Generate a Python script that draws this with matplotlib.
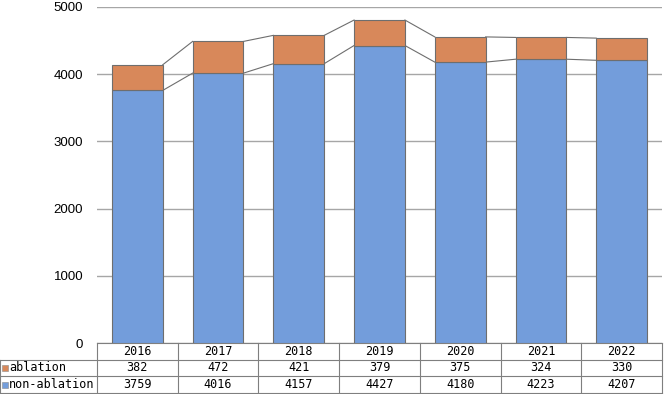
import matplotlib.pyplot as plt
import numpy as np

years = ['2016', '2017', '2018', '2019', '2020', '2021', '2022']
ablation = [382, 472, 421, 379, 375, 324, 330]
non_ablation = [3759, 4016, 4157, 4427, 4180, 4223, 4207]
series_names = ['ablation', 'non-ablation']

blue = '#739ddb'
orange = '#d8885a'
edge = '#6e6e6e'

W, H = 664, 394
fig = plt.figure(figsize=(W / 100, H / 100), dpi=100)
left, right, top, bottom = 97, 662, 7, 343
ax = fig.add_axes([left / W, 1 - bottom / H, (right - left) / W, (bottom - top) / H])

x = np.arange(len(years))
bw = 0.63
ax.bar(x, non_ablation, bw, color=blue, edgecolor=edge, linewidth=0.8, zorder=3)
ax.bar(x, ablation, bw, bottom=non_ablation, color=orange, edgecolor=edge, linewidth=0.8, zorder=3)

# series lines between bars
totals = np.array(non_ablation) + np.array(ablation)
for lvl in (np.array(non_ablation), totals):
    for i in range(len(x) - 1):
        ax.plot([x[i] + bw / 2, x[i + 1] - bw / 2], [lvl[i], lvl[i + 1]],
                color=edge, lw=0.8, zorder=2)

ax.set_xlim(-0.5, len(years) - 0.5)
ax.set_ylim(0, 5000)
ax.set_yticks(range(0, 5001, 1000))
ax.yaxis.grid(True, color='#a6a6a6', lw=1, zorder=0)
ax.set_xticks([])
for s in ax.spines.values():
    s.set_visible(False)
ax.tick_params(axis='y', length=0, pad=10, labelsize=9.5, labelfontfamily='Liberation Sans')

# data table below the plot
rh = 16.6 / (bottom - top)
tr = ax.get_xaxis_transform()
lc = '#7f7f7f'
x0 = -left / (right - left)
font = dict(family='DejaVu Sans Mono', fontsize=8.5)

# horizontal lines
ax.plot([0, 1], [0, 0], transform=ax.transAxes, color=lc, lw=0.8, clip_on=False)
for r in (1, 2, 3):
    ax.plot([x0, 1], [-r * rh, -r * rh], transform=ax.transAxes, color=lc, lw=0.8, clip_on=False)
# vertical lines
ax.plot([x0, x0], [-rh, -3 * rh], transform=ax.transAxes, color=lc, lw=0.8, clip_on=False)
for b in np.arange(-0.5, len(years), 1.0):
    ax.plot([b, b], [0, -3 * rh], transform=tr, color=lc, lw=0.8, clip_on=False)

for i, yr in enumerate(years):
    ax.text(i, -0.5 * rh, yr, transform=tr, ha='center', va='center', **font)
    ax.text(i, -1.5 * rh, str(ablation[i]), transform=tr, ha='center', va='center', **font)
    ax.text(i, -2.5 * rh, str(non_ablation[i]), transform=tr, ha='center', va='center', **font)

for r, (name, col) in enumerate(zip(series_names, [orange, blue])):
    yy = -(r + 1.5) * rh
    ax.scatter([x0 + 5 / (right - left)], [yy], marker='s', s=16, color=col,
               edgecolor='#8a8a8a', linewidth=0.4,
               transform=ax.transAxes, clip_on=False, zorder=4)
    ax.text(x0 + 9 / (right - left), yy, name, transform=ax.transAxes,
            ha='left', va='center', **font)

fig.savefig('out.png', dpi=100)
